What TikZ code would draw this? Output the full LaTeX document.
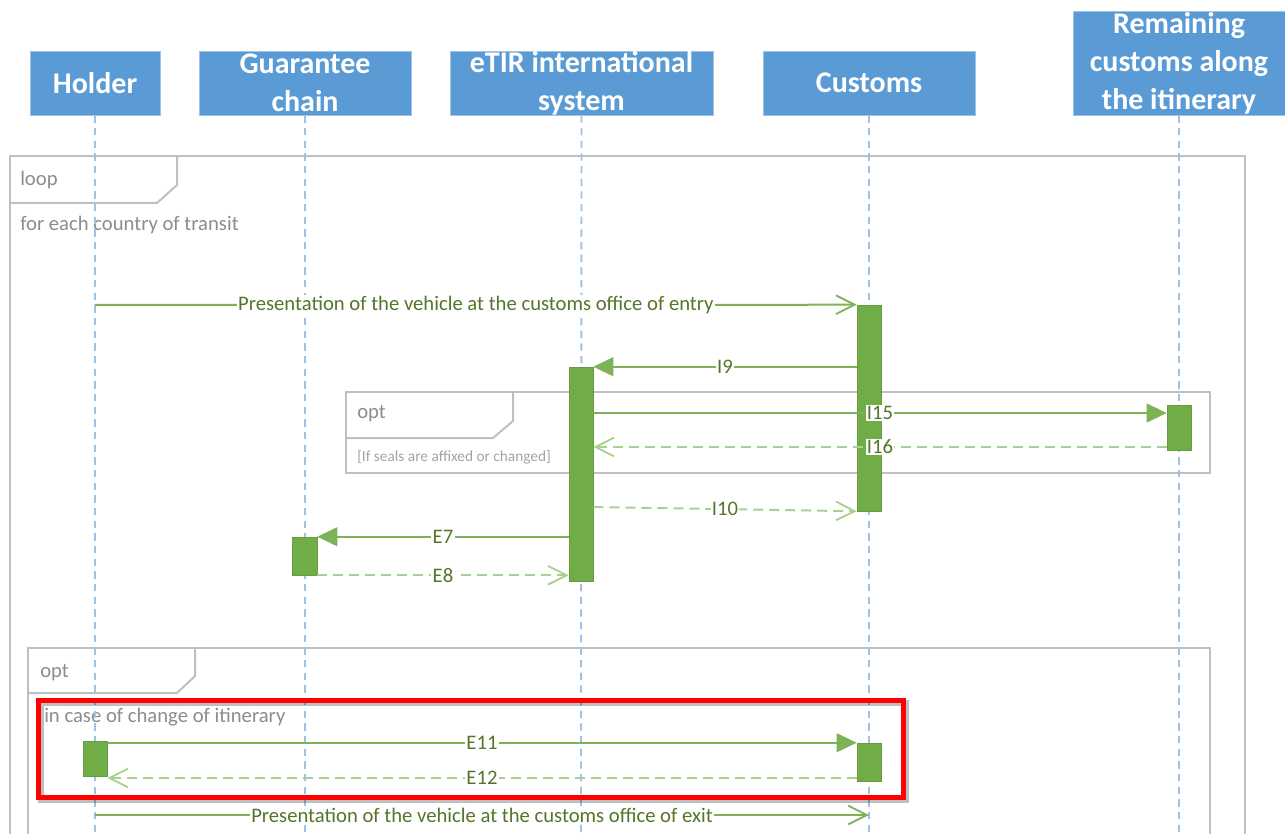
\documentclass[tikz,border=0pt]{standalone}
\usepackage{fontspec}
\setmainfont{Carlito}
\usetikzlibrary{arrows.meta,calc}
\definecolor{hdr}{HTML}{5B9BD5}
\definecolor{life}{HTML}{9DC3E6}
\definecolor{act}{HTML}{70AD47}
\definecolor{msg}{HTML}{7DB356}
\definecolor{rmsg}{HTML}{A9D18E}
\definecolor{lbl}{HTML}{56752A}
\definecolor{frm}{HTML}{BFBFBF}
\definecolor{ftxt}{HTML}{8C8C8C}
\begin{document}
\begin{tikzpicture}[x=0.75pt,y=-0.75pt,
  header/.style={fill=hdr, draw=hdr!60!white, line width=0.6pt, text=white,
    font=\fontsize{22.5}{28.5}\selectfont\bfseries, align=center, inner sep=0pt},
  lifeline/.style={draw=life, line width=1.4pt, dash pattern=on 5.5pt off 4pt},
  actbar/.style={fill=act, draw=act!90!black, line width=0.4pt, inner sep=0pt, minimum width=18pt},
  msgline/.style={draw=msg, line width=1.5pt},
  retline/.style={draw=rmsg, line width=1.5pt, dash pattern=on 7.5pt off 4.5pt},
  opentip/.style={-{Straight Barb[length=14pt,width=14pt,line width=1.4pt]}},
  filltip/.style={-{Triangle[length=15pt,width=14pt]}},
  lbl/.style={fill=white, inner sep=1pt, text=lbl, font=\fontsize{15.5}{18}\selectfont},
  frame/.style={draw=frm, line width=1.5pt},
  ftext/.style={text=ftxt, inner sep=0pt, anchor=west, font=\fontsize{15.5}{18}\selectfont},
  fsmall/.style={text=ftxt!80!white, inner sep=0pt, anchor=west, font=\fontsize{11.5}{13}\selectfont},
]
\useasboundingbox (0,0) rectangle (1285,834);
\clip (0,0) rectangle (1285,834);

% headers
\node[header, minimum width=97.5pt, minimum height=48pt] (holder) at (95,83) {Holder};
\node[header, minimum width=159pt, minimum height=48pt] (guar) at (305,83) {Guarantee\\chain};
\node[header, minimum width=197.25pt, minimum height=48pt] (etir) at (581.5,83) {eTIR international\\system};
\node[header, minimum width=159pt, minimum height=48pt] (cust) at (869,83) {Customs};
\node[header, minimum width=159pt, minimum height=78pt] (rem) at (1179,63) {Remaining\\customs along\\the itinerary};

% lifeline ends
\coordinate (holderEnd) at (95,834);
\coordinate (guarEnd) at (305,834);
\coordinate (etirEnd) at (581,834);
\coordinate (custEnd) at (869,834);
\coordinate (remEnd) at (1179,834);

% frames
\draw[frame] (10,156) rectangle (1245,850);
\draw[frame] (10,203) -- (157,203) -- (177,185) -- (177,156);
\node[ftext] (looplbl) at (20,180) {loop};
\node[ftext] (loopcond) at (20,225) {for each country of transit};

\draw[frame] (346,392) rectangle (1210,473);
\draw[frame] (346,438) -- (493,438) -- (513,421) -- (513,392);
\node[ftext] (opt1lbl) at (357,414) {opt};
\node[fsmall] (opt1cond) at (357,457) {[If seals are affixed or changed]};

\draw[frame] (28,648) rectangle (1210,850);
\draw[frame] (28,693) -- (177,693) -- (195,676) -- (195,648);
\node[ftext] (opt2lbl) at (40,673) {opt};
\node[ftext] (opt2cond) at (44,717) {in case of change of itinerary};

% lifelines
\draw[lifeline] (holder.south) -- (holderEnd);
\draw[lifeline] (guar.south) -- (guarEnd);
\draw[lifeline] (etir.south) -- (etirEnd);
\draw[lifeline] (cust.south) -- (custEnd);
\draw[lifeline] (rem.south) -- (remEnd);

% activation bars
\node[actbar, minimum height=154.5pt] (c1) at (869,408) {};
\node[actbar, minimum height=160.5pt] (e1) at (581,474) {};
\node[actbar, minimum height=33.75pt] (r1) at (1179,427.5) {};
\node[actbar, minimum width=18.75pt, minimum height=28.5pt] (g1) at (304.5,556) {};
\node[actbar, minimum height=26.25pt] (h1) at (95,758.5) {};
\node[actbar, minimum height=28.5pt] (c2) at (869,762) {};

% messages
\coordinate (m1s) at (95,305);
\draw[msgline, opentip] (m1s) -- (c1.north west)
  node[lbl, midway] {Presentation of the vehicle at the customs office of entry};
\draw[msgline, filltip] (c1.west |- e1.north) -- (e1.north east) node[lbl, midway] {I9};
\draw[msgline, filltip] (e1.east |- 0,413) -- (r1.west |- 0,413) node[lbl, midway] {I15};
\draw[retline, opentip] (r1.west |- 0,447) -- (e1.east |- 0,447) node[lbl, midway] {I16};
\draw[retline, opentip] (e1.east |- 0,507) -- (c1.south west) node[lbl, midway] {I10};
\draw[msgline, filltip] (e1.west |- g1.north) -- (g1.north east) node[lbl, midway] {E7};
\draw[retline, opentip] (g1.south east) -- (e1.west |- g1.south) node[lbl, midway] {E8};
\draw[msgline, filltip] (h1.east |- c2.north) -- (c2.north west) node[lbl, midway] {E11};
\draw[retline, opentip] (c2.west |- 0,778) -- (h1.east |- 0,778) node[lbl, midway] {E12};
\coordinate (m2s) at (95,815);
\coordinate (m2e) at (869,815);
\draw[msgline, opentip] (m2s) -- (m2e)
  node[lbl, midway] {Presentation of the vehicle at the customs office of exit};

% highlight
\draw[black, opacity=0.25, line width=5pt] (41,703) rectangle (906,800);
\draw[red, line width=3.75pt] (38,700) rectangle (903,797);
\end{tikzpicture}
\end{document}
